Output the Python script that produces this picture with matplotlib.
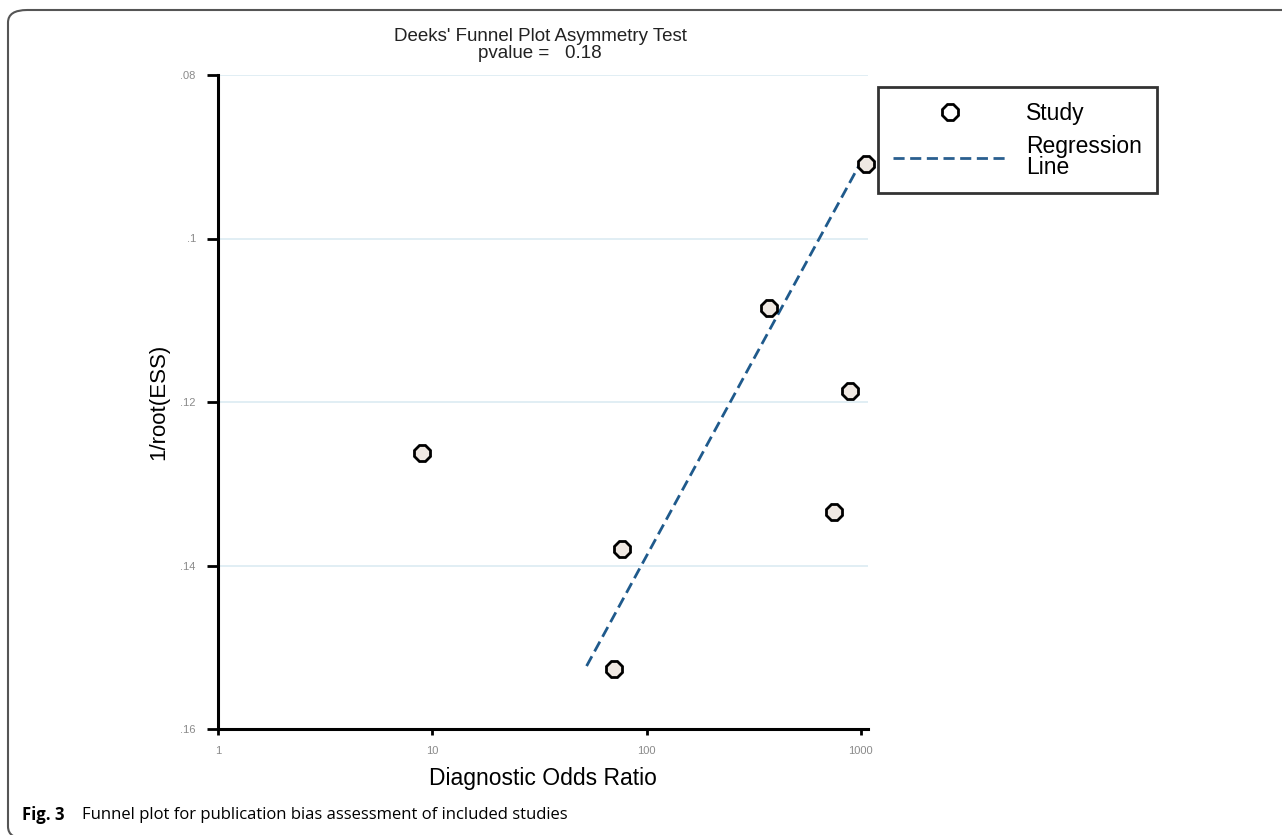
import matplotlib.pyplot as plt
from matplotlib.patches import FancyBboxPatch
from matplotlib.lines import Line2D

# study points (diagnostic odds ratio, 1/root(ESS))
dor = [9.0, 76.4, 70.2, 374, 894, 752, 1061]
inv_root_ess = [0.1262, 0.1380, 0.1527, 0.1085, 0.1187, 0.1335, 0.0909]

# regression line end points
reg_x = [52.5, 984]
reg_y = [0.1523, 0.0910]

y_ticks = [0.08, 0.10, 0.12, 0.14, 0.16]
y_tick_labels = [".08", ".1", ".12", ".14", ".16"]
x_ticks = [1, 10, 100, 1000]
x_tick_labels = ["1", "10", "100", "1000"]

plt.rcParams['font.family'] = ['Liberation Sans', 'DejaVu Sans']

fig = plt.figure(figsize=(12.82, 8.35), dpi=100)
W, H = 1282, 835
ax = fig.add_axes([218 / W, 1 - 729 / H, (868 - 218) / W, (729 - 75) / H])

ax.set_xscale('log')
ax.set_xlim(1, 1080)
ax.set_ylim(0.16, 0.08)

for yt in y_ticks[:-1]:
    ax.axhline(yt, color='#dcebf2', lw=1.2, zorder=0)

ax.plot(reg_x, reg_y, ls=(0, (4, 2)), color='#1f5a8c', lw=2, zorder=2)
ax.plot(dor, inv_root_ess, ls='none', marker='8', ms=13, mfc='#efe8e2',
        mec='black', mew=2.0, zorder=3, clip_on=False)

ax.set_xticks(x_ticks)
ax.set_xticklabels(x_tick_labels)
ax.minorticks_off()
ax.set_yticks(y_ticks)
ax.set_yticklabels(y_tick_labels)
ax.tick_params(axis='y', length=8, width=2, colors='black', labelcolor='#8a8a8a', labelsize=8, pad=8)
ax.tick_params(axis='x', length=4, width=2, colors='black', labelcolor='#8a8a8a', labelsize=8, pad=8)

for s in ['top', 'right']:
    ax.spines[s].set_visible(False)
for s in ['left', 'bottom']:
    ax.spines[s].set_linewidth(2.2)

ax.set_xlabel('Diagnostic Odds Ratio', fontsize=16.5, labelpad=8)
ax.set_ylabel('1/root(ESS)', fontsize=16, labelpad=8)

fig.text(540 / W, 1 - 45 / H, "Deeks' Funnel Plot Asymmetry Test\npvalue =   0.18",
         ha='center', va='center', fontsize=13.5, color='#222222', linespacing=0.95)

# legend
handles = [
    Line2D([], [], ls='none', marker='8', ms=12, mfc='white', mec='black', mew=2.0),
    Line2D([], [], ls=(0, (4, 2)), color='#2a5f8f', lw=2),
]
leg = fig.legend(handles, ['Study', 'Regression\nLine'], loc='upper left',
                 bbox_to_anchor=(878 / W, 1 - 87 / H), frameon=True, fancybox=False,
                 edgecolor='black', fontsize=16.5, handlelength=5.0, handletextpad=0.8,
                 borderpad=0.65, labelspacing=0.45, borderaxespad=0)
leg.get_frame().set_linewidth(2)
for t in leg.get_texts():
    t.set_linespacing(0.85)

# outer frame and caption
frame = FancyBboxPatch((8 / W, -4 / H), 1.2, 1 - 10 / H + 4 / H,
                       boxstyle='round,pad=0,rounding_size=0.015',
                       transform=fig.transFigure, fill=False, edgecolor='#555555',
                       lw=1.5, clip_on=False)
fig.patches.append(frame)

fig.text(22 / W, 1 - 815 / H, 'Fig. 3', fontsize=12, fontweight='bold',
         family=['Open Sans', 'DejaVu Sans'], va='center')
fig.text(82 / W, 1 - 815 / H, 'Funnel plot for publication bias assessment of included studies',
         fontsize=12, family=['Open Sans', 'DejaVu Sans'], va='center')

fig.savefig('out.png', dpi=100)
